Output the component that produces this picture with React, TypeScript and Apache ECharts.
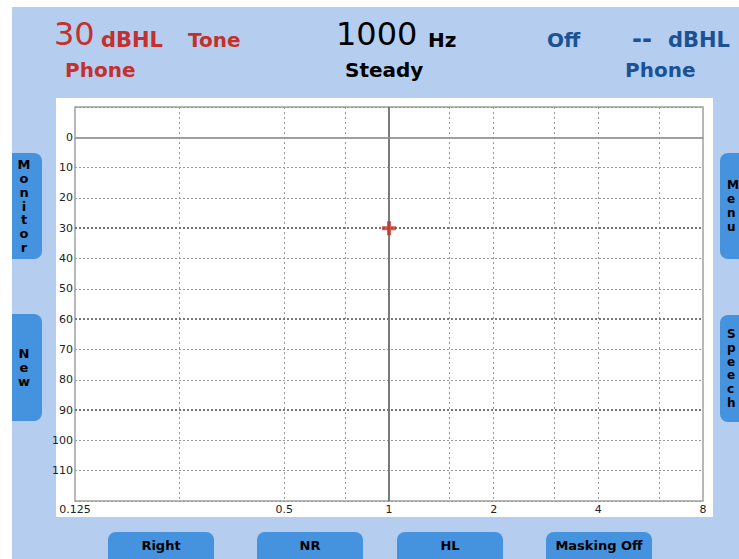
import React, { useEffect, useRef } from 'react';
import * as echarts from 'echarts';

// ---- data ----
const freqTicks = [0.125, 0.25, 0.5, 1, 2, 4, 8];
const freqTickLabels = ['0.125', '', '0.5', '1', '2', '4', '8'];
const minorFreqs = [0.25, 0.5, 0.75, 1.5, 2, 3, 4, 6];
const centerFreqs = [1];
const levelMin = -10;
const levelMax = 120;
const levelLabelMax = 110;
const strongLevels = [30, 60, 90];
const zeroLevels = [0];
const markerFreqs = [1];
const markerLevels = [30];

const headerTexts = [
  { text: '30', x: 54, y: 50, size: 32, weight: 'normal', color: '#c4302b' },
  { text: 'dBHL', x: 101, y: 50, size: 21, weight: 'bold', color: '#c4302b' },
  { text: 'Tone', x: 188, y: 50, size: 20, weight: 'bold', color: '#c4302b' },
  { text: 'Phone', x: 65, y: 80, size: 20, weight: 'bold', color: '#c4302b' },
  { text: '1000', x: 336, y: 50, size: 32, weight: 'normal', color: '#000000' },
  { text: 'Hz', x: 428, y: 50, size: 20, weight: 'bold', color: '#000000' },
  { text: 'Steady', x: 345, y: 80, size: 20, weight: 'bold', color: '#000000' },
  { text: 'Off', x: 547, y: 50, size: 20, weight: 'bold', color: '#1a5296' },
  { text: '--', x: 632, y: 51, size: 24, weight: 'bold', color: '#1a5296' },
  { text: 'dBHL', x: 668, y: 50, size: 21, weight: 'bold', color: '#1a5296' },
  { text: 'Phone', x: 625, y: 80, size: 20, weight: 'bold', color: '#1a5296' },
];

const sideButtons = [
  { label: 'Monitor', side: 'left', top: 153, bottom: 259 },
  { label: 'New', side: 'left', top: 314, bottom: 421 },
  { label: 'Menu', side: 'right', top: 153, bottom: 259 },
  { label: 'Speech', side: 'right', top: 315, bottom: 422 },
];

const bottomButtons = [
  { label: 'Right', left: 108 },
  { label: 'NR', left: 257 },
  { label: 'HL', left: 397 },
  { label: 'Masking Off', left: 546 },
];

const FONT = 'DejaVu Sans';
const BTN = '#4592de';
const PANEL = '#b5cdee';

export default function App() {
  const ref = useRef<HTMLDivElement>(null);
  useEffect(() => {
    if (!ref.current) return;
    const chart = echarts.init(ref.current, undefined, { renderer: 'svg' });

    const graphics: any[] = [
      { type: 'rect', z: -10, shape: { x: 12, y: 7, width: 727, height: 552 }, style: { fill: PANEL }, silent: true },
      { type: 'rect', z: -9, shape: { x: 56, y: 98, width: 657, height: 419 }, style: { fill: '#ffffff' }, silent: true },
    ];
    headerTexts.forEach((t) => {
      graphics.push({
        type: 'text',
        x: t.x,
        y: t.y,
        style: {
          text: t.text,
          fill: t.color,
          font: `${t.weight} ${t.size}px "${FONT}"`,
          textVerticalAlign: 'bottom',
        },
      });
    });
    sideButtons.forEach((b) => {
      const left = b.side === 'left';
      const x = left ? 12 : 720;
      graphics.push({
        type: 'rect',
        shape: { x, y: b.top, width: 30, height: b.bottom - b.top, r: left ? [0, 8, 8, 0] : [8, 0, 0, 8] },
        style: { fill: BTN },
      });
      graphics.push({
        type: 'text',
        x: left ? 24 : 727,
        y: (b.top + b.bottom) / 2,
        style: {
          text: b.label.split('').join('\n'),
          fill: '#000',
          font: `bold ${left ? 13 : 12}px "${FONT}"`,
          lineHeight: 13.8,
          align: left ? 'center' : 'left',
          verticalAlign: 'middle',
        },
      });
    });
    bottomButtons.forEach((b) => {
      graphics.push({
        type: 'rect',
        shape: { x: b.left, y: 532, width: 106, height: 40, r: [8, 8, 0, 0] },
        style: { fill: BTN },
      });
      graphics.push({
        type: 'text',
        x: b.left + 53,
        y: 545,
        style: {
          text: b.label,
          fill: '#000',
          font: `bold 13px "${FONT}"`,
          align: 'center',
          verticalAlign: 'middle',
        },
      });
    });

    const vLine = (f: number, style: any) => ({ xAxis: Math.log2(f), lineStyle: style });
    const hLine = (l: number, style: any) => ({ yAxis: l, lineStyle: style });

    const markData = [
      ...minorFreqs.map((f) => vLine(f, { color: '#999', width: 1, type: [2, 3] })),
      ...centerFreqs.map((f) => vLine(f, { color: '#666', width: 1.5, type: 'solid' })),
      ...zeroLevels.map((l) => hLine(l, { color: '#999', width: 1.5, type: 'solid' })),
      ...strongLevels.map((l) => hLine(l, { color: '#777', width: 2, type: [2, 2] })),
    ];

    const option: any = {
      animation: false,
      backgroundColor: '#ffffff',
      graphic: graphics,
      grid: {
        left: 75,
        top: 107,
        right: 36,
        bottom: 58,
        show: true,
        borderColor: '#a0a0a0',
        borderWidth: 1.5,
        backgroundColor: 'transparent',
      },
      xAxis: {
        type: 'value',
        min: Math.log2(freqTicks[0]),
        max: Math.log2(freqTicks[freqTicks.length - 1]),
        interval: 1,
        axisLine: { show: true, lineStyle: { color: '#a0a0a0', width: 1.5 } },
        axisTick: { show: false },
        splitLine: { show: false },
        axisLabel: {
          margin: 3,
          color: '#222',
          fontFamily: FONT,
          fontSize: 11,
          formatter: (v: number) => {
            const i = freqTicks.findIndex((f) => Math.abs(Math.log2(f) - v) < 1e-6);
            return i >= 0 ? freqTickLabels[i] : '';
          },
        },
      },
      yAxis: {
        type: 'value',
        inverse: true,
        min: levelMin,
        max: levelMax,
        interval: 10,
        axisLine: { show: true, lineStyle: { color: '#a0a0a0', width: 1.5 } },
        axisTick: { show: false },
        splitLine: { show: true, lineStyle: { color: '#999', width: 1, type: [2, 2] } },
        axisLabel: {
          margin: 2,
          color: '#222',
          fontFamily: FONT,
          fontSize: 11,
          formatter: (v: number) => (v >= 0 && v <= levelLabelMax ? String(v) : ''),
        },
      },
      series: [
        {
          type: 'line',
          data: [],
          silent: true,
          markLine: {
            silent: true,
            symbol: ['none', 'none'],
            label: { show: false },
            data: markData,
          },
        },
        {
          type: 'scatter',
          data: markerFreqs.map((f, i) => [Math.log2(f), markerLevels[i]]),
          symbol: 'path://M0,5H14V9H0Z M5,0H9V14H5Z',
          symbolSize: 14,
          itemStyle: { color: '#c8322a' },
          z: 10,
        },
      ],
    };
    chart.setOption(option);
    return () => chart.dispose();
  }, []);
  return (
    <div
      ref={ref}
      style={{ position: 'fixed', left: 0, top: 0, width: 739, height: 559 }}
    />
  );
}
